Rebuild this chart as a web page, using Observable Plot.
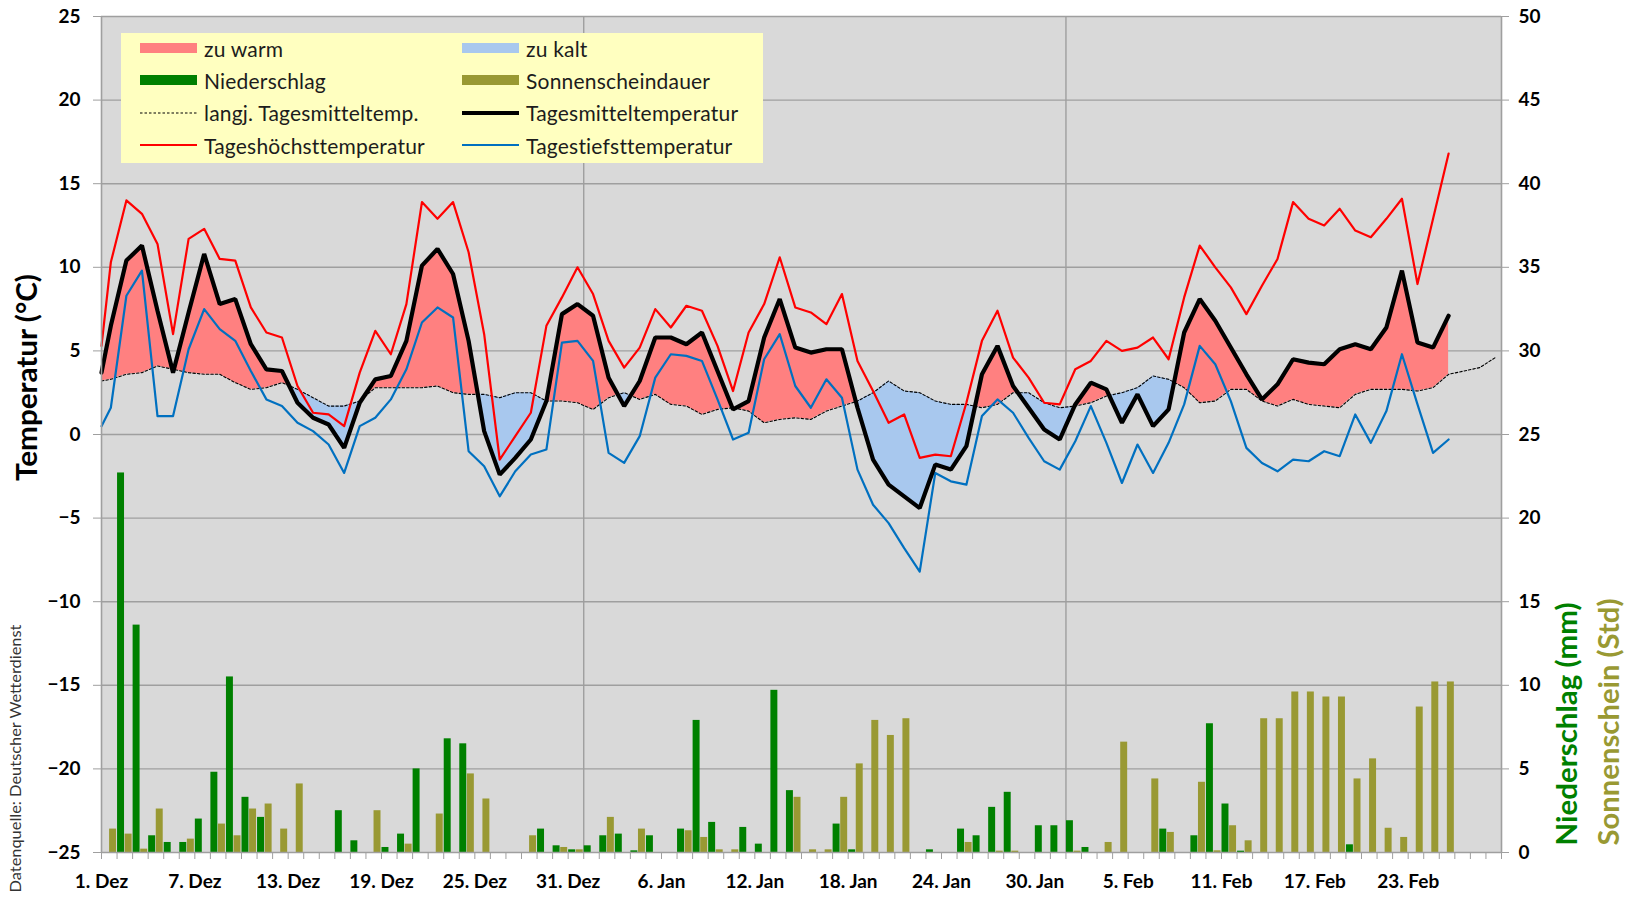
<!DOCTYPE html>
<html>
<head>
<meta charset="utf-8">
<script src="https://cdn.jsdelivr.net/npm/d3@7"></script>
<script src="https://cdn.jsdelivr.net/npm/@observablehq/plot@0.6"></script>
<style>
  body { margin: 0; background: #ffffff; }
  #wrap { position: relative; width: 1636px; height: 900px; font-family: Lato, "Open Sans", sans-serif; }
  #legend { position: absolute; left: 121px; top: 33px; width: 642px; height: 130px; background: #ffffc0; }
  .item { position: absolute; display: flex; align-items: center; height: 24px; font-size: 21px; letter-spacing: 0.2px; color: #1c1c1c; white-space: nowrap; }
  .item svg { margin-right: 7px; }
</style>
</head>
<body>
<div id="wrap"><div id="legend"></div></div>
<script>
// ---------- data ----------
// daily values, Dec 1 ... Feb 25 (temperatures, °C)
const tempMax = [10.3,14.0,13.2,11.4,6.0,11.7,12.3,10.5,10.4,7.6,
  6.1,5.8,2.9,1.3,1.2,0.5,3.7,6.2,4.8,7.8,
  13.9,12.9,13.9,10.9,6.0,-1.5,-0.1,1.3,6.5,8.2,
  10.0,8.4,5.6,4.0,5.2,7.5,6.4,7.7,7.4,5.3,
  2.6,6.1,7.8,10.6,7.6,7.3,6.6,8.4,4.4,2.6,
  0.7,1.2,-1.4,-1.2,-1.3,1.9,5.6,7.4,4.6,3.4,
  1.9,1.8,3.9,4.4,5.6,5.0,5.2,5.8,4.5,8.2,
  11.3,10.0,8.8,7.2,8.9,10.5,13.9,12.9,12.5,13.5,
  12.2,11.8,12.9,14.1,9.0,12.9,16.8];
const tempMean = [6.5,10.4,11.3,7.4,3.7,7.3,10.8,7.8,8.1,5.4,
  3.9,3.8,1.9,1.0,0.6,-0.8,1.9,3.3,3.5,5.6,
  10.1,11.1,9.6,5.6,0.2,-2.4,-1.4,-0.3,2.0,7.2,
  7.8,7.1,3.4,1.7,3.2,5.8,5.8,5.4,6.1,3.8,
  1.5,2.0,5.8,8.1,5.2,4.9,5.1,5.1,1.6,-1.5,
  -3.0,-3.7,-4.4,-1.8,-2.1,-0.7,3.6,5.3,2.9,1.6,
  0.3,-0.3,1.8,3.1,2.7,0.7,2.4,0.5,1.5,6.1,
  8.1,6.8,5.2,3.6,2.1,3.0,4.5,4.3,4.2,5.1,
  5.4,5.1,6.4,9.8,5.5,5.2,7.1];
const tempMin = [1.6,8.3,9.8,1.1,1.1,5.1,7.5,6.3,5.6,3.8,
  2.1,1.7,0.7,0.2,-0.6,-2.3,0.5,1.0,2.1,3.9,
  6.7,7.6,7.0,-1.0,-1.9,-3.7,-2.2,-1.2,-0.9,5.5,
  5.6,4.4,-1.1,-1.7,-0.1,3.4,4.8,4.7,4.4,2.1,
  -0.3,0.1,4.5,6.0,2.9,1.6,3.3,2.2,-2.1,-4.2,
  -5.3,-6.8,-8.2,-2.3,-2.8,-3.0,1.1,2.1,1.3,-0.2,
  -1.6,-2.1,-0.4,1.7,-0.5,-2.9,-0.6,-2.3,-0.5,1.8,
  5.3,4.2,2.0,-0.8,-1.7,-2.2,-1.5,-1.6,-1.0,-1.3,
  1.2,-0.5,1.4,4.8,1.8,-1.1,-0.3];
// long-term daily mean, Dec 1 ... Feb 28
const tempNormal = [3.3,3.6,3.7,4.1,3.9,3.7,3.6,3.6,3.1,2.7,
  2.8,3.1,2.7,2.2,1.7,1.7,2.0,2.8,2.8,2.8,
  2.8,2.9,2.5,2.4,2.4,2.2,2.5,2.5,2.0,2.0,
  1.9,1.5,2.2,2.5,2.1,2.4,1.8,1.7,1.2,1.5,
  1.6,1.4,0.7,0.9,1.0,0.9,1.4,1.7,2.0,2.5,
  3.2,2.6,2.5,2.0,1.8,1.8,1.6,1.8,2.5,2.5,
  1.9,1.6,1.7,1.9,2.3,2.5,2.8,3.5,3.3,2.8,
  1.9,2.0,2.7,2.7,2.0,1.7,2.1,1.8,1.7,1.6,
  2.4,2.7,2.7,2.7,2.6,2.8,3.6,3.8,4.0,4.6];
// values where the lines enter at the left edge: max, mean, min, long-term mean
const edgeValues = [5.3, 3.7, 0.5, 3.2];
// Dec 1 ... Feb 26 (mm and hours)
const precip = [0,22.7,13.6,1.0,0.6,0.6,2.0,4.8,10.5,3.3,
  2.1,0,0,0,0,2.5,0.7,0,0.3,1.1,
  5.0,0,6.8,6.5,0,0,0,0,1.4,0.4,
  0.16,0.4,1.0,1.1,0.1,1.0,0,1.4,7.9,1.8,
  0,1.5,0.5,9.7,3.7,0,0,1.7,0.16,0,
  0,0,0,0.16,0,1.4,1.0,2.7,3.6,0,
  1.6,1.6,1.9,0.3,0,0,0,0,1.4,0,
  1.0,7.7,2.9,0.08,0,0,0,0,0,0,
  0.46,0,0,0,0,0,0,0];
const sunshine = [0,1.4,1.1,0.2,2.6,0,0.8,0,1.7,1.0,
  2.6,2.9,1.4,4.1,0,0,0,0,2.5,0,
  0.5,0,2.3,0,4.7,3.2,0,0,1.0,0,
  0.3,0.16,0,2.1,0,1.4,0,0,1.3,0.9,
  0.16,0.16,0,0,0,3.3,0.16,0.16,3.3,5.3,
  7.9,7.0,8.0,0,0,0,0.6,0,0.08,0.08,
  0,0,0,0.08,0,0.6,6.6,0,4.4,1.2,
  0,4.2,0.1,1.6,0.7,8.0,8.0,9.6,9.6,9.3,
  9.3,4.4,5.6,1.45,0.9,8.7,10.2,10.2];
const tickLabels = ["1. Dez","7. Dez","13. Dez","19. Dez","25. Dez","31. Dez","6. Jan","12. Jan","18. Jan","24. Jan","30. Jan","5. Feb","11. Feb","17. Feb","23. Feb"];
const monthLengths = [31, 31, 28]; // Dez, Jan, Feb
const tempDomain = [-25, 25];
const rightDomain = [0, 50];

// ---------- styling / layout constants ----------
const labelStep = 6;          // days between labels
const lineTimeOfDay = 0.6;    // temperature points sit inside the day
const barHalf = 0.48;         // width of one column in days
const warmColor = "#ff8080", coldColor = "#a8c8ee";
const precipColor = "#008000", sunColor = "#999933";
const gridColor = "#9f9f9f";

// ---------- derived ----------
const totalDays = d3.sum(monthLengths);
const monthStarts = d3.cumsum(monthLengths).slice(0, -1);
const labelDays = tickLabels.map((_, i) => i * labelStep);
const toLeft = v => v - rightDomain[0] + tempDomain[0];
const yTicks = d3.range(tempDomain[0], tempDomain[1] + 1, 5);

const lead = {x: 0, max: edgeValues[0], mean: edgeValues[1], min: edgeValues[2], normal: edgeValues[3]};
const temps = [lead, ...tempMean.map((m, k) => ({x: k + lineTimeOfDay, max: tempMax[k], mean: m, min: tempMin[k], normal: tempNormal[k]}))];
const normals = [{x: 0, normal: edgeValues[3]}, ...tempNormal.map((n, k) => ({x: k + lineTimeOfDay, normal: n}))];

// insert crossings so warm / cold areas meet exactly
const fills = [];
temps.forEach((p, i) => {
  if (i > 0) {
    const q = temps[i - 1];
    const d0 = q.mean - q.normal, d1 = p.mean - p.normal;
    if (d0 * d1 < 0) {
      const t = d0 / (d0 - d1);
      const yv = q.normal + t * (p.normal - q.normal);
      fills.push({x: q.x + t * (p.x - q.x), mean: yv, normal: yv});
    }
  }
  fills.push(p);
});

const bars = precip.map((v, i) => ({day: i, precip: v, sun: sunshine[i]}));

const axisFont = {fontSize: 19, fontWeight: "bold", fill: "#000"};

const chart = Plot.plot({
  width: 1636,
  height: 900,
  marginLeft: 101,
  marginRight: 135,
  marginTop: 16,
  marginBottom: 48,
  style: {fontFamily: "Lato, 'Open Sans', sans-serif", background: "transparent", overflow: "visible"},
  x: {domain: [0, totalDays], axis: null},
  y: {domain: tempDomain, axis: null},
  marks: [
    Plot.frame({fill: "#d9d9d9", stroke: "none"}),
    Plot.ruleY(yTicks.filter(t => t > tempDomain[0]), {stroke: gridColor, strokeWidth: 1.4}),
    Plot.ruleX(monthStarts, {stroke: gridColor, strokeWidth: 1.4}),
    // columns on the right axis
    Plot.rect(bars.filter(d => d.sun > 0), {x1: d => d.day - barHalf, x2: d => d.day, y1: toLeft(rightDomain[0]), y2: d => toLeft(d.sun), fill: sunColor, insetRight: 0.5}),
    Plot.rect(bars.filter(d => d.precip > 0), {x1: d => d.day, x2: d => d.day + barHalf, y1: toLeft(rightDomain[0]), y2: d => toLeft(d.precip), fill: precipColor, insetLeft: 0.5}),
    // anomaly areas
    Plot.areaY(fills, {x: "x", y1: "normal", y2: d => Math.max(d.mean, d.normal), fill: warmColor}),
    Plot.areaY(fills, {x: "x", y1: d => Math.min(d.mean, d.normal), y2: "normal", fill: coldColor}),
    // lines
    Plot.line(normals, {x: "x", y: "normal", stroke: "#000", strokeWidth: 1.1, strokeDasharray: "2.5,2"}),
    Plot.line(temps, {x: "x", y: "min", stroke: "#0070c0", strokeWidth: 2.2}),
    Plot.line(temps, {x: "x", y: "max", stroke: "#ff0000", strokeWidth: 2.2}),
    Plot.line(temps, {x: "x", y: "mean", stroke: "#000", strokeWidth: 4.2, strokeLinejoin: "miter"}),
    // axis lines
    Plot.ruleX([0, totalDays], {stroke: gridColor, strokeWidth: 1.6}),
    Plot.ruleY([tempDomain[0]], {stroke: gridColor, strokeWidth: 1.6}),
    // axes
    Plot.axisY(yTicks, {anchor: "left", label: null, tickSize: 8, tickPadding: 13, stroke: gridColor, ...axisFont}),
    Plot.axisY(yTicks, {anchor: "right", label: null, tickSize: 7, tickPadding: 10, stroke: gridColor, tickFormat: d => String(d - tempDomain[0] + rightDomain[0]), ...axisFont}),
    Plot.axisX(d3.range(0, totalDays + 1), {anchor: "bottom", label: null, tickSize: 7, tickFormat: () => "", stroke: gridColor}),
    Plot.axisX(labelDays, {anchor: "bottom", label: null, tickSize: 0, tickPadding: 22, tickFormat: d => tickLabels[labelDays.indexOf(d)], ...axisFont}),
    // titles
    Plot.text(["Temperatur (°C)"], {className: "t-temp", frameAnchor: "left", dx: -74, dy: -57, rotate: -90, textAnchor: "middle", fontSize: 29, fontWeight: "bold", fill: "#000"}),
    Plot.text(["Datenquelle: Deutscher Wetterdienst"], {className: "t-src", frameAnchor: "left", dx: -85, dy: 324, rotate: -90, textAnchor: "middle", fontSize: 15, fill: "#333"}),
    Plot.text(["Niederschlag (mm)"], {className: "t-prec", frameAnchor: "bottom-right", dx: 75, dy: -7, rotate: -90, textAnchor: "start", fontSize: 28, fontWeight: "bold", fill: precipColor}),
    Plot.text(["Sonnenschein (Std)"], {className: "t-sun", frameAnchor: "bottom-right", dx: 117, dy: -7, rotate: -90, textAnchor: "start", fontSize: 28, fontWeight: "bold", fill: sunColor})
  ]
});
// stretch the rotated titles to the lengths they have in the reference
const titleLengths = {"t-temp": 207, "t-src": 268, "t-prec": 243, "t-sun": 247};
Object.entries(titleLengths).forEach(([cls, len]) => {
  d3.select(chart).selectAll(`.${cls} text`).attr("textLength", len).attr("lengthAdjust", "spacingAndGlyphs");
});
document.getElementById("wrap").prepend(chart);

// ---------- legend ----------
const legendItems = [
  {label: "zu warm", kind: "area", color: warmColor},
  {label: "zu kalt", kind: "area", color: coldColor},
  {label: "Niederschlag", kind: "area", color: precipColor},
  {label: "Sonnenscheindauer", kind: "area", color: sunColor},
  {label: "langj. Tagesmitteltemp.", kind: "dash", color: "#000", width: 1.1},
  {label: "Tagesmitteltemperatur", kind: "line", color: "#000", width: 4},
  {label: "Tageshöchsttemperatur", kind: "line", color: "#ff0000", width: 2},
  {label: "Tagestiefsttemperatur", kind: "line", color: "#0070c0", width: 2}
];
const colLeft = [19, 341];
const rowCenter = [15, 47.4, 79.7, 112];
const legend = document.getElementById("legend");
legendItems.forEach((it, i) => {
  const div = document.createElement("div");
  div.className = "item";
  div.style.left = colLeft[i % 2] + "px";
  div.style.top = (rowCenter[Math.floor(i / 2)] - 12) + "px";
  let sw;
  if (it.kind === "area") sw = `<rect x="0" y="1" width="57" height="10" fill="${it.color}"/>`;
  else if (it.kind === "dash") sw = `<line x1="0" x2="57" y1="6" y2="6" stroke="${it.color}" stroke-width="${it.width}" stroke-dasharray="2.5,2"/>`;
  else sw = `<line x1="0" x2="57" y1="6" y2="6" stroke="${it.color}" stroke-width="${it.width}"/>`;
  div.innerHTML = `<svg width="57" height="12">${sw}</svg><span>${it.label}</span>`;
  legend.appendChild(div);
});
</script>
</body>
</html>
